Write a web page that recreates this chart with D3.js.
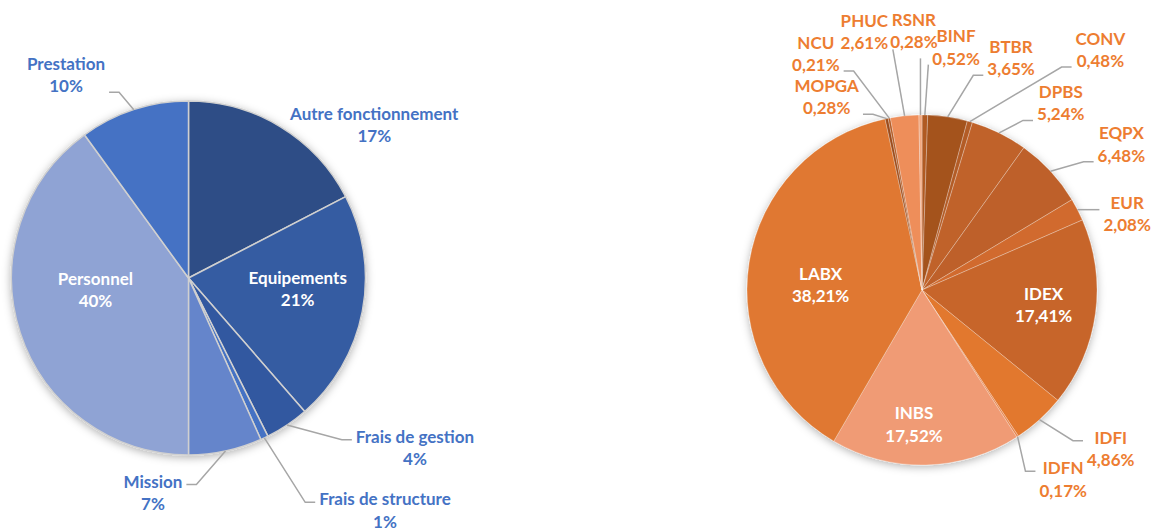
<!DOCTYPE html>
<html>
<head>
<meta charset="utf-8">
<script src="https://cdn.jsdelivr.net/npm/d3@7"></script>
<style>
body { margin: 0; background: #fff; }
text { font-family: Lato, "Open Sans", sans-serif; font-weight: bold; }
</style>
</head>
<body>
<svg id="chart" width="1155" height="531"></svg>
<script>
// dépenses (en %)
const depCats = ["Autre fonctionnement", "Equipements", "Frais de gestion", "Frais de structure", "Mission", "Personnel", "Prestation"];
const depValues = [17.4, 21.2, 4.0, 0.7, 6.7, 40.0, 10.0];

// financements (en %)
const finCats = ["BINF", "BTBR", "CONV", "DPBS", "EQPX", "EUR", "IDEX", "IDFI", "IDFN", "INBS", "LABX", "MOPGA", "NCU", "PHUC", "RSNR"];
const finValues = [0.52, 3.65, 0.48, 5.24, 6.48, 2.08, 17.41, 4.86, 0.17, 17.52, 38.21, 0.28, 0.21, 2.61, 0.28];

// couleurs
const depColors = ["#2e4e86", "#365ca2", "#3358a0", "#4472c4", "#6585cb", "#8fa3d4", "#4472c4"];
const finColors = ["#b05a24", "#a4521e", "#b35b25", "#c0622a", "#be6129", "#d16b2d", "#c7652a", "#e2782f",
                   "#e9844a", "#f09b74", "#e07830", "#9c4c1c", "#b45b25", "#ee8e5a", "#f2a77e"];

// placement des étiquettes : [angle (degrés), distance / rayon, ligne de rappel]
const depLabelPos = [[50.5, 1.36, false], [95.7, 0.62, false], [126.9, 1.60, true], [139.8, 1.72, true],
                     [189.4, 1.23, true], [262.7, 0.53, false], [328.9, 1.34, true]];
const finLabelPos = [[8.0, 1.40, true], [21.0, 1.42, true], [36.6, 1.71, true], [36.6, 1.33, true],
                     [53.9, 1.41, true], [69.7, 1.25, true], [97.0, 0.70, false], [130.1, 1.41, true],
                     [143.3, 1.35, true], [183.4, 0.77, false], [272.8, 0.58, false], [333.7, 1.23, true],
                     [335.8, 1.48, true], [347.4, 1.51, true], [358.2, 1.48, true]];

let svg = d3.select("#chart");

// ombre douce autour des camemberts
let filter = svg.append("defs").append("filter")
    .attr("id", "ombre")
    .attr("x", "-20%").attr("y", "-20%")
    .attr("width", "140%").attr("height", "140%");
filter.append("feDropShadow")
    .attr("dx", 0).attr("dy", 2)
    .attr("stdDeviation", 4)
    .attr("flood-color", "#000")
    .attr("flood-opacity", 0.3);

function drawPie(cfg) {
    let data = cfg.cats.map((c, i) => ({cat: c, value: cfg.values[i], i: i}));
    let pie = d3.pie().sort(null).value(d => d.value);
    let arcs = pie(data);
    let arc = d3.arc().innerRadius(0).outerRadius(cfg.r);

    let g = svg.append("g")
        .attr("transform", `translate(${cfg.cx}, ${cfg.cy})`);

    g.append("g")
        .attr("filter", "url(#ombre)")
        .selectAll("path")
        .data(arcs)
        .enter()
        .append("path")
        .attr("d", arc)
        .attr("fill", d => cfg.colors[d.data.i])
        .attr("stroke", cfg.stroke)
        .attr("stroke-width", cfg.strokeWidth)
        .attr("stroke-linejoin", "round");

    let lines = g.append("g");
    let labels = g.append("g");

    arcs.forEach(function(d) {
        let pos = cfg.labelPos[d.data.i];
        let a = pos[0] * Math.PI / 180;
        let lx = Math.sin(a) * pos[1] * cfg.r;
        let ly = -Math.cos(a) * pos[1] * cfg.r;
        let inside = pos[1] < 1;

        let t = labels.append("text")
            .attr("text-anchor", "middle")
            .attr("font-size", 17)
            .attr("fill", inside ? "#ffffff" : cfg.textColor);
        t.append("tspan").attr("x", lx).attr("y", ly - 11.25 + 6).text(d.data.cat);
        t.append("tspan").attr("x", lx).attr("y", ly + 11.25 + 6).text(cfg.fmt(d.data.value));

        if (!pos[2]) return;

        // point sur le bord, au milieu de la part
        let mid = (d.startAngle + d.endAngle) / 2;
        let p = [Math.sin(mid) * cfg.r, -Math.cos(mid) * cfg.r];
        let box = t.node().getBBox();
        let x0 = box.x, x1 = box.x + box.width, y0 = box.y, y1 = box.y + box.height;
        let pts;
        if (p[0] >= x0 && p[0] <= x1) {
            let ay = p[1] > y1 ? y1 + 6 : y0 - 6;
            pts = [[p[0], ay], p];
        } else {
            let right = p[0] > x1;
            let ax = right ? x1 + 4 : x0 - 4;
            let ay = Math.max(y0 + 14, Math.min(y1 - 4, p[1]));
            let ex = ax + (right ? 10 : -10);
            if (Math.abs(p[0] - ax) < 14) pts = [[ax, ay], p];
            else pts = [[ax, ay], [ex, ay], p];
        }
        lines.append("path")
            .attr("d", d3.line()(pts))
            .attr("fill", "none")
            .attr("stroke", "#a6a6a6")
            .attr("stroke-width", 1.5);
    });
}

drawPie({
    cx: 188.5, cy: 278, r: 177,
    cats: depCats, values: depValues, colors: depColors,
    labelPos: depLabelPos,
    fmt: v => Math.round(v) + "%",
    textColor: "#4472c4",
    stroke: "#d0d0d0", strokeWidth: 1.5
});

drawPie({
    cx: 922, cy: 290, r: 175,
    cats: finCats, values: finValues, colors: finColors,
    labelPos: finLabelPos,
    fmt: v => d3.format(".2f")(v).replace(".", ",") + "%",
    textColor: "#ed7d31",
    stroke: "rgba(255,255,255,0.35)", strokeWidth: 0.8
});
</script>
</body>
</html>
